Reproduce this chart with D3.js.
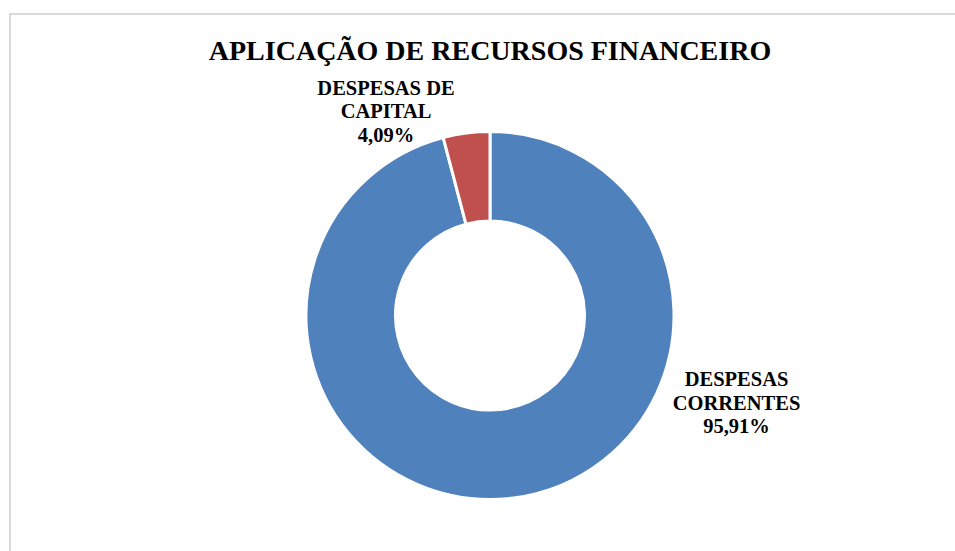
<!DOCTYPE html>
<html>
<head>
<meta charset="utf-8">
<script src="https://cdn.jsdelivr.net/npm/d3@7/dist/d3.min.js"></script>
<style>
  html, body { margin: 0; padding: 0; background: #fff; }
  svg { display: block; }
</style>
</head>
<body>
<script>
// Application of financial resources, share by expense group
const categories = ["DESPESAS CORRENTES", "DESPESAS DE CAPITAL"];
const values = [95.91, 4.09];
const labelLines = [["DESPESAS", "CORRENTES"], ["DESPESAS DE", "CAPITAL"]];
const colors = ["#4F81BD", "#C0504D"];
const title = "APLICAÇÃO DE RECURSOS FINANCEIRO";

const W = 955, H = 551;
const serif = "'Liberation Serif', 'Times New Roman', serif";
const svg = d3.select("body").append("svg").attr("width", W).attr("height", H);

// chart frame
svg.append("rect")
  .attr("x", 10).attr("y", 14).attr("width", W + 20).attr("height", H + 20)
  .attr("fill", "#fff").attr("stroke", "#d9d9d9").attr("stroke-width", 2);

svg.append("text")
  .attr("x", 490).attr("y", 60)
  .attr("text-anchor", "middle")
  .attr("font-family", serif)
  .attr("font-weight", "bold").attr("font-size", 28)
  .attr("fill", "#000")
  .text(title);

const cx = 490, cy = 315.5, rOuter = 184, rInner = 94.5;
const data = categories.map((c, i) => ({ name: c, value: values[i], lines: labelLines[i], color: colors[i] }));

const pie = d3.pie().value(d => d.value).sort(null);
const arc = d3.arc().innerRadius(rInner).outerRadius(rOuter);
const arcs = pie(data);

const g = svg.append("g").attr("transform", `translate(${cx},${cy})`);
g.selectAll("path").data(arcs).join("path")
  .attr("d", arc)
  .attr("fill", d => d.data.color)
  .attr("stroke", "#fff").attr("stroke-width", 3).attr("stroke-linejoin", "miter");

// data labels placed outside each slice
const fmt = v => v.toFixed(2).replace(".", ",") + "%";
const labelPos = [[736.5, 386], [386, 94.5]];
arcs.forEach((a, i) => {
  const [lx, ly] = labelPos[i];
  const t = svg.append("text")
    .attr("text-anchor", "middle")
    .attr("font-family", serif)
    .attr("font-weight", "bold").attr("font-size", 20.5)
    .attr("fill", "#000");
  const lines = a.data.lines.concat([fmt(a.data.value)]);
  lines.forEach((ln, k) => {
    t.append("tspan").attr("x", lx).attr("y", ly + k * 23.5).text(ln);
  });
});
</script>
</body>
</html>
